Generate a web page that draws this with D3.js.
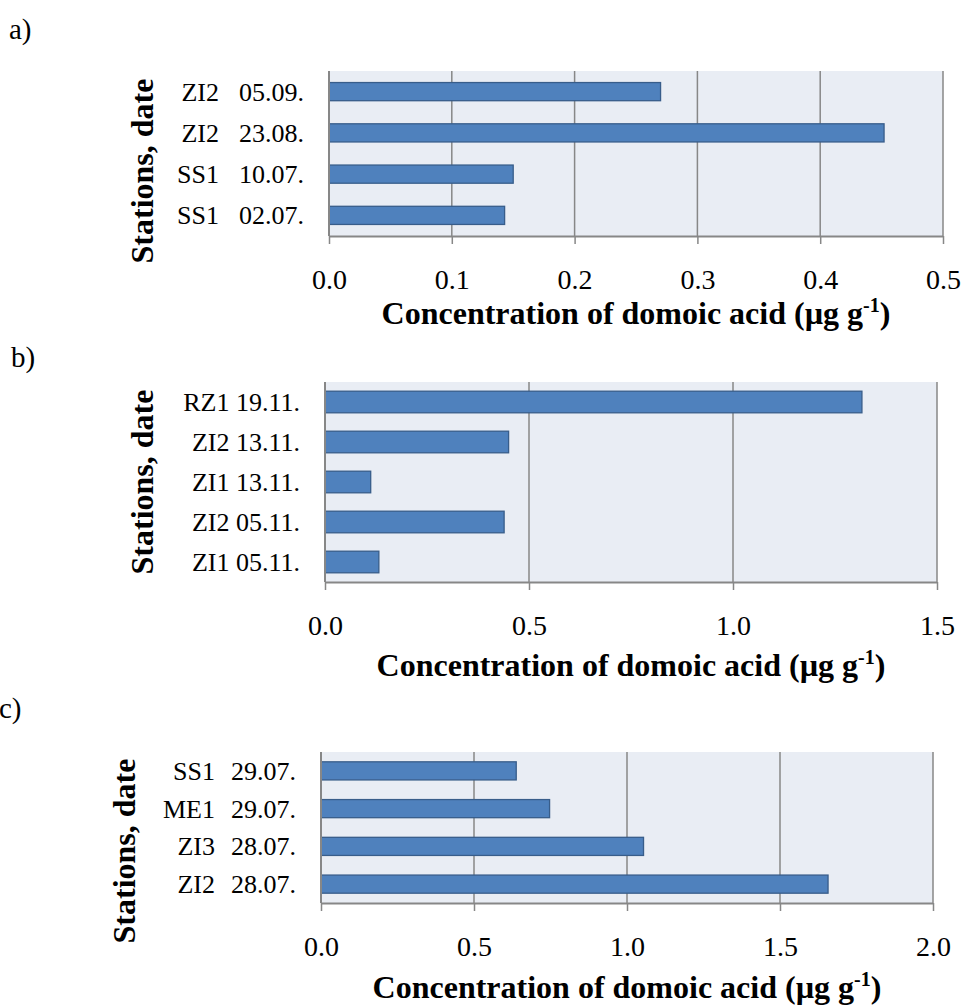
<!DOCTYPE html>
<html>
<head>
<meta charset="utf-8">
<script src="https://cdn.jsdelivr.net/npm/d3@7"></script>
<style>
    body { margin: 0; background: #fff; }
    svg { display: block; }
    svg text { font-family: "Liberation Serif", "Times New Roman", serif !important; }
</style>
</head>
<body>
<svg id="chart" width="964" height="1006"></svg>
<script>
// panel a
const aStations = ['SS1', 'SS1', 'ZI2', 'ZI2'];
const aDates = ['02.07.', '10.07.', '23.08.', '05.09.'];
const aValues = [0.143, 0.150, 0.452, 0.270];
const aTicks = [0, 0.1, 0.2, 0.3, 0.4, 0.5];

// panel b
const bStations = ['ZI1', 'ZI2', 'ZI1', 'ZI2', 'RZ1'];
const bDates = ['05.11.', '05.11.', '13.11.', '13.11.', '19.11.'];
const bValues = [0.132, 0.439, 0.112, 0.450, 1.316];
const bTicks = [0, 0.5, 1.0, 1.5];

// panel c
const cStations = ['ZI2', 'ZI3', 'ME1', 'SS1'];
const cDates = ['28.07.', '28.07.', '29.07.', '29.07.'];
const cValues = [1.657, 1.054, 0.747, 0.638];
const cTicks = [0, 0.5, 1.0, 1.5, 2.0];

const xTitle = 'Concentration of domoic acid (µg g';
const yTitle = 'Stations, date';

const svg = d3.select('#chart');

function drawPanel(p) {
    const g = svg.append('g');

    const x = d3.scaleLinear()
        .domain([0, p.ticks[p.ticks.length - 1]])
        .range([p.left, p.right]);

    // categories bottom-to-top, like Excel's bar chart
    const idx = d3.range(p.values.length);
    const y = d3.scaleBand()
        .domain(idx.slice().reverse())
        .range([p.top, p.bottom])
        .paddingInner(p.pad)
        .paddingOuter(p.pad / 2);

    g.append('rect')
        .attr('x', p.left)
        .attr('y', p.top)
        .attr('width', p.right - p.left)
        .attr('height', p.bottom - p.top)
        .attr('fill', '#e9edf4');

    // gridlines
    g.append('g')
        .selectAll('line')
        .data(p.ticks.slice(1))
        .enter().append('line')
        .attr('x1', d => x(d))
        .attr('x2', d => x(d))
        .attr('y1', p.top)
        .attr('y2', p.bottom)
        .attr('stroke', '#878787')
        .attr('stroke-width', 1.5);

    g.append('g')
        .selectAll('rect')
        .data(idx)
        .enter().append('rect')
        .attr('x', x(0))
        .attr('y', i => y(i))
        .attr('width', i => x(p.values[i]) - x(0))
        .attr('height', y.bandwidth())
        .attr('fill', '#4f81bd')
        .attr('stroke', '#385d8a')
        .attr('stroke-width', 1.3);

    // x axis
    const xAxis = g.append('g')
        .attr('transform', `translate(0,${p.bottom})`)
        .call(d3.axisBottom(x)
            .tickValues(p.ticks)
            .tickFormat(d3.format('.1f'))
            .tickSize(8)
            .tickPadding(25));
    xAxis.attr('font-family', null);
    xAxis.select('.domain').attr('stroke', '#878787').attr('stroke-width', 2).attr('d', `M${p.left},0.5H${p.right}`);
    xAxis.selectAll('.tick line').attr('stroke', '#878787').attr('stroke-width', 1.5);
    xAxis.selectAll('.tick text')
        .attr('font-size', 28)
        .attr('fill', '#000');

    // y axis line
    g.append('line')
        .attr('x1', p.left)
        .attr('x2', p.left)
        .attr('y1', p.top)
        .attr('y2', p.bottom)
        .attr('stroke', '#878787')
        .attr('stroke-width', 2);

    // category labels
    const labels = g.append('g')
        .attr('font-size', 26)
        .attr('fill', '#000');
    idx.forEach(i => {
        const cy = y(i) + y.bandwidth() / 2 + 9;
        if (p.split) {
            labels.append('text')
                .attr('x', p.labelEnd)
                .attr('y', cy)
                .attr('text-anchor', 'end')
                .text(p.dates[i]);
            labels.append('text')
                .attr('x', p.stationEnd)
                .attr('y', cy)
                .attr('text-anchor', 'end')
                .text(p.stations[i]);
        } else {
            labels.append('text')
                .attr('x', p.labelEnd)
                .attr('y', cy)
                .attr('text-anchor', 'end')
                .text(p.stations[i] + ' ' + p.dates[i]);
        }
    });

    // axis titles
    const xt = g.append('text')
        .attr('x', p.titleX)
        .attr('y', p.titleY)
        .attr('text-anchor', 'middle')
        .attr('font-size', 32)
        .attr('font-weight', 'bold')
        .text(xTitle);
    xt.append('tspan')
        .attr('font-size', 20)
        .attr('dy', -12)
        .text('-1');
    xt.append('tspan')
        .attr('dy', 12)
        .text(')');

    g.append('text')
        .attr('transform', `translate(${p.yTitleX},${p.yTitleY}) rotate(-90)`)
        .attr('text-anchor', 'middle')
        .attr('font-size', 32)
        .attr('font-weight', 'bold')
        .text(yTitle);

    g.append('text')
        .attr('x', p.tagX)
        .attr('y', p.tagY)
        .attr('font-size', 29)
        .text(p.tag);
}

drawPanel({
    tag: 'a)', tagX: 9, tagY: 39,
    stations: aStations, dates: aDates, values: aValues, ticks: aTicks,
    left: 329, right: 943, top: 71, bottom: 236, pad: 0.56,
    split: true, labelEnd: 304, stationEnd: 219,
    titleX: 636, titleY: 324, yTitleX: 153, yTitleY: 171
});

drawPanel({
    tag: 'b)', tagX: 11, tagY: 367,
    stations: bStations, dates: bDates, values: bValues, ticks: bTicks,
    left: 325, right: 937, top: 382, bottom: 582, pad: 0.46,
    split: false, labelEnd: 300,
    titleX: 631, titleY: 676, yTitleX: 153, yTitleY: 482
});

drawPanel({
    tag: 'c)', tagX: -1, tagY: 718,
    stations: cStations, dates: cDates, values: cValues, ticks: cTicks,
    left: 321, right: 933, top: 752, bottom: 903, pad: 0.52,
    split: true, labelEnd: 296, stationEnd: 215,
    titleX: 627, titleY: 998, yTitleX: 135, yTitleY: 851
});
</script>
</body>
</html>
